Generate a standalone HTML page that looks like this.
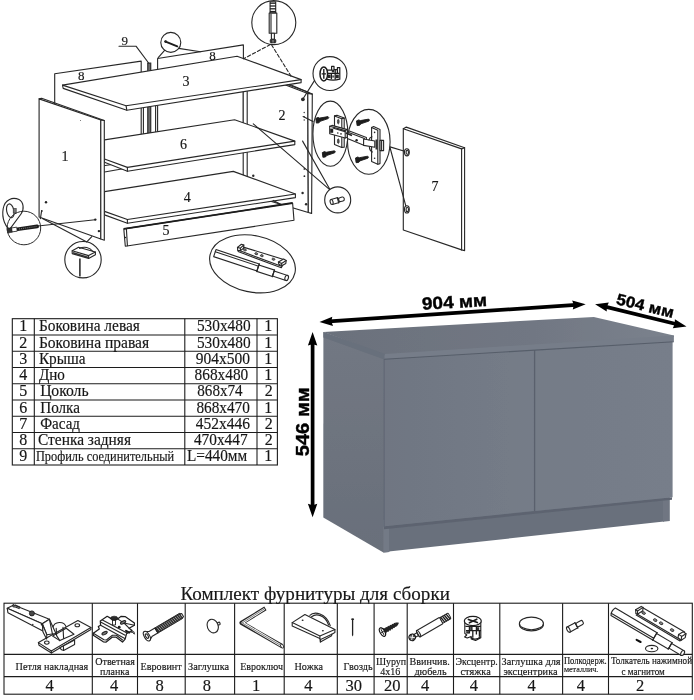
<!DOCTYPE html>
<html lang="ru">
<head>
<meta charset="utf-8">
<title>Схема сборки</title>
<style>
html,body{margin:0;padding:0;background:#fff;}
body{width:694px;height:700px;overflow:hidden;position:relative;font-family:"Liberation Serif",serif;}
svg{position:absolute;left:0;top:0;display:block;}
text{font-family:"Liberation Serif",serif;fill:#161616;stroke:#161616;stroke-width:0.16;}
.sans{font-family:"Liberation Sans",sans-serif;font-weight:bold;fill:#000;stroke:#000;stroke-width:0.4;}
.ln{stroke:#282828;stroke-width:1.12;fill:none;stroke-linecap:round;stroke-linejoin:round;}
.lnw{stroke:#282828;stroke-width:1.12;fill:#fff;stroke-linejoin:round;}
.tb{stroke:#1c1c1c;stroke-width:1.1;fill:none;}
</style>
</head>
<body>
<svg width="694" height="700" viewBox="0 0 694 700">
<defs>
<filter id="soft" x="-2%" y="-2%" width="104%" height="104%"><feGaussianBlur stdDeviation="0.45"/></filter>
<linearGradient id="gFront" x1="0" y1="0" x2="1" y2="0">
<stop offset="0" stop-color="#6f7682"/><stop offset="1" stop-color="#757c88"/>
</linearGradient>
<linearGradient id="gFrontR" x1="0" y1="0" x2="1" y2="0">
<stop offset="0" stop-color="#747b87"/><stop offset="1" stop-color="#777e8a"/>
</linearGradient>
<linearGradient id="gTop" x1="0" y1="0" x2="1" y2="0">
<stop offset="0" stop-color="#6b717c"/><stop offset="0.6" stop-color="#717783"/><stop offset="1" stop-color="#7b828d"/>
</linearGradient>
<linearGradient id="gSide" x1="0" y1="0" x2="0" y2="1">
<stop offset="0" stop-color="#727883"/><stop offset="1" stop-color="#696f7a"/>
</linearGradient>
</defs>
<rect width="694" height="700" fill="#fff"/>

<!-- ============ EXPLODED DIAGRAM ============ -->
<g id="exploded" filter="url(#soft)">
<!-- back walls 8 -->
<polygon class="lnw" points="54.7,73.7 141.2,61.1 141.2,160 54.7,173.3"/>
<polygon class="lnw" points="157.6,58.5 243.4,44.9 243.4,145 157.6,158"/>
<line class="ln" x1="143.4" y1="108" x2="143.4" y2="133.5" stroke-width="0.8"/>
<line class="ln" x1="155.6" y1="106" x2="155.6" y2="131.8" stroke-width="0.8"/>
<!-- profile 9 -->
<rect x="147.4" y="62.9" width="3.6" height="71" fill="#444" stroke="#222" stroke-width="0.6"/>
<line x1="149.2" y1="64" x2="149.2" y2="133" stroke="#999" stroke-width="0.7"/>
<polyline class="ln" points="119,46.2 136,46.2 148.6,63"/>
<!-- right side 2 -->
<polygon class="lnw" points="243.2,68.8 307.8,93.4 308.3,212.5 243.2,193"/>
<line class="ln" x1="247.2" y1="70" x2="247.2" y2="194"/>
<polygon class="lnw" points="307.8,93.4 312.3,94.1 311.6,213.4 308.3,212.5"/>
<line class="ln" x1="286.8" y1="84.2" x2="309" y2="92.6" />
<line class="ln" x1="287.5" y1="83.4" x2="312.3" y2="94.1" stroke-width="0.8"/>
<!-- holes on 2 -->
<circle cx="302.9" cy="99.3" r="1.9" fill="#2a2a2a"/>
<circle cx="304.2" cy="112.5" r="0.7" fill="#333"/><circle cx="304.2" cy="116.8" r="0.7" fill="#333"/><circle cx="304.2" cy="120" r="0.7" fill="#333"/>
<circle cx="304.4" cy="168.9" r="0.9" fill="#2a2a2a"/><circle cx="304.4" cy="176.2" r="0.9" fill="#2a2a2a"/>
<circle cx="302.6" cy="193" r="1.2" fill="#2a2a2a"/><circle cx="306.1" cy="204.2" r="1.2" fill="#2a2a2a"/>
<circle cx="253.3" cy="175.7" r="1.2" fill="#2a2a2a"/>
<!-- back wall lower edge seen under shelf -->
<line class="ln" x1="104.5" y1="172" x2="123" y2="168.8"/>
<!-- shelf 6 -->
<polygon class="lnw" points="104.5,139.9 234.6,119.7 294.8,141.1 294.8,144.6 127.4,171.2 104.5,162.2"/>
<polyline class="ln" points="104.5,159 127.4,167.4 294.8,141.1"/>
<line class="ln" x1="127.4" y1="167.4" x2="127.4" y2="171.2"/>
<!-- bottom 4 -->
<polygon class="lnw" points="104.5,191.6 233.3,171.4 295.4,194 295.4,197.6 127.4,223.2 104.5,214.9"/>
<polyline class="ln" points="104.5,211.4 127.4,219.5 295.4,194"/>
<line class="ln" x1="127.4" y1="219.5" x2="127.4" y2="223.2"/>
<line class="ln" x1="273.2" y1="200.4" x2="280.1" y2="203.9"/>
<!-- plinth 5 -->
<polygon class="lnw" points="123.8,228.9 292.6,203 294,220.3 125.3,246.2"/>
<line x1="123.8" y1="228.9" x2="292.6" y2="203" stroke="#1e1e1e" stroke-width="1.8"/>
<line class="ln" x1="126.4" y1="229" x2="127.4" y2="245.6"/>
<circle cx="125.4" cy="237.5" r="0.8" fill="#222"/>
<!-- top 3 -->
<polygon class="lnw" points="62.5,85.1 237.1,56.2 301.1,79.6 301.1,82.6 126.8,110.2 63.2,88.4"/>
<polyline class="ln" points="62.5,85.1 126.1,105.8 301.1,79.6"/>
<line class="ln" x1="126.1" y1="105.8" x2="126.8" y2="110.2"/>
<!-- left side 1 -->
<polygon class="lnw" points="39.1,98.9 100.8,120 100.8,239 39.1,217"/>
<polygon class="lnw" points="100.8,120 104.3,120.5 104.3,240.2 100.8,239"/>
<polyline class="ln" points="39.1,98.9 41.6,98.2 104.3,120.5"/>
<circle cx="46" cy="202.3" r="1.2" fill="#222"/><circle cx="41.8" cy="211" r="0.9" fill="#222"/>
<circle cx="95.3" cy="219.6" r="1.2" fill="#222"/><circle cx="98.9" cy="231.1" r="1.2" fill="#222"/>
<circle cx="80.5" cy="120.5" r="0.5" fill="#555"/>
<!-- door 7 -->
<polygon class="lnw" points="403.3,128.7 406.3,127.1 464.6,147.7 464.6,250.6 461.6,249.9 403.3,230"/>
<polyline class="ln" points="403.3,128.7 461.6,148.9 461.6,249.9"/>
<line class="ln" x1="461.6" y1="148.9" x2="464.6" y2="147.7"/>
<ellipse class="lnw" cx="406.9" cy="152.3" rx="2.4" ry="3.6"/><ellipse class="ln" cx="407.3" cy="152.3" rx="1.2" ry="2.2" stroke-width="0.6"/>
<ellipse class="lnw" cx="406.9" cy="209.4" rx="2.4" ry="3.6"/><ellipse class="ln" cx="407.3" cy="209.4" rx="1.2" ry="2.2" stroke-width="0.6"/>
<!-- part numbers -->
<g font-size="14" text-anchor="middle">
<text x="65" y="161.2">1</text><text x="281.9" y="120.2">2</text><text x="185.9" y="86">3</text>
<text x="187.2" y="201.9">4</text><text x="166" y="235.4">5</text><text x="183.4" y="148.9">6</text>
<text x="434.9" y="190.6">7</text><text x="81.3" y="80.4" font-size="13">8</text><text x="212.6" y="60.2" font-size="13">8</text>
<text x="124.8" y="44.8" font-size="13">9</text>
</g>
<g id="callouts">
<!-- nail callout -->
<circle class="lnw" cx="170.8" cy="42.4" r="10"/>
<line x1="165.6" y1="41.6" x2="177.3" y2="46.3" stroke="#1c1c1c" stroke-width="1.9" stroke-linecap="round"/>
<circle cx="165.6" cy="41.6" r="1.4" fill="#222"/>
<line class="ln" x1="178.6" y1="48.4" x2="200.5" y2="51.7"/>
<line class="ln" x1="164.6" y1="50.4" x2="158.2" y2="57.6"/>
<!-- dowel callout -->
<circle class="lnw" cx="273.8" cy="22.6" r="22"/>
<rect class="lnw" x="269.2" y="13" width="7.6" height="20.3"/>
<line class="ln" x1="271" y1="14" x2="271" y2="32.5" stroke-width="0.6"/>
<rect class="lnw" x="270.1" y="1.8" width="5.6" height="11.2"/>
<g stroke="#222" stroke-width="1.3"><line x1="269.9" y1="3.2" x2="275.9" y2="3.2"/><line x1="269.9" y1="6" x2="275.9" y2="6"/><line x1="269.9" y1="8.8" x2="275.9" y2="8.8"/><line x1="269.9" y1="11.8" x2="275.9" y2="11.8" stroke-width="1.8"/></g>
<rect class="lnw" x="271.4" y="33.3" width="3" height="6"/>
<rect x="270.1" y="39.3" width="5.8" height="3.6" rx="1" fill="#333" stroke="#222" stroke-width="0.6"/>
<line x1="273" y1="40" x2="273" y2="42.5" stroke="#ccc" stroke-width="0.7"/>
<line class="ln" x1="270.3" y1="44.6" x2="243.5" y2="58.8" stroke-dasharray="3.4 2.2" stroke-linecap="butt"/>
<line class="ln" x1="271.5" y1="44.8" x2="291" y2="76.1" stroke-dasharray="3.4 2.2" stroke-linecap="butt"/>
<!-- eccentric callout -->
<circle class="lnw" cx="329.95" cy="73.6" r="16.95"/>
<line class="ln" x1="314.6" y1="80.4" x2="302.9" y2="99"/>
<path d="M326.6,70.2 H331.6 V66.4 H334 V69.6 H337.4 V67.6 H339.8 V79.2 Q333,81 326.6,79.2 Z" fill="#fff" stroke="#1c1c1c" stroke-width="1.2" stroke-linejoin="round"/>
<path d="M327,73.4H339.6 M331.4,73.4v5.8 M335.2,70v9.4 M337.4,69.6v4" stroke="#1c1c1c" stroke-width="1.3" fill="none"/>
<rect x="328" y="74.6" width="2.6" height="3.4" fill="#2a2a2a"/><rect x="336" y="74.6" width="2.8" height="3.6" fill="#2a2a2a"/><rect x="331.8" y="69.6" width="2.4" height="2.8" fill="#2a2a2a"/><rect x="332.2" y="75.4" width="2" height="2.2" fill="#555"/>
<ellipse cx="323.8" cy="73.9" rx="3.8" ry="7" fill="#fff" stroke="#1c1c1c" stroke-width="1.5"/>
<path d="M323.8,69v9.8 M321.6,73.9h4.4" stroke="#1c1c1c" stroke-width="1.4" fill="none"/>
<!-- hinge ellipses -->
<ellipse class="lnw" cx="330.4" cy="133.7" rx="17.5" ry="32.6"/>
<ellipse class="lnw" cx="368.8" cy="141.8" rx="21.3" ry="32.4"/>
<line class="ln" x1="303.1" y1="116.5" x2="313" y2="121.5"/>
<line class="ln" x1="390" y1="146.9" x2="404.6" y2="151.3"/>
<line class="ln" x1="390" y1="147.5" x2="405.8" y2="205.8"/>
<!-- screws -->
<g fill="#1c1c1c" stroke="#1c1c1c" stroke-width="0.9" stroke-linejoin="round">
<path d="M315.8,118.4l2.2,-1l1.6,0.7l8.4,-1.5l0.8,0.9l-0.6,1.1l-8,2.7l-1.2,1.5l-2.6,0.3z"/>
</g>
<g transform="translate(6.5,34.2)" fill="#1c1c1c" stroke="#1c1c1c" stroke-width="0.9" stroke-linejoin="round"><path d="M315.8,118.4l2.2,-1l1.6,0.7l8.4,-1.5l0.8,0.9l-0.6,1.1l-8,2.7l-1.2,1.5l-2.6,0.3z"/></g>
<g transform="translate(40.7,2.5)" fill="#1c1c1c" stroke="#1c1c1c" stroke-width="0.9" stroke-linejoin="round"><path d="M315.8,118.4l2.2,-1l1.6,0.7l8.4,-1.5l0.8,0.9l-0.6,1.1l-8,2.7l-1.2,1.5l-2.6,0.3z"/></g>
<g transform="translate(39.7,39.6)" fill="#1c1c1c" stroke="#1c1c1c" stroke-width="0.9" stroke-linejoin="round"><path d="M315.8,118.4l2.2,-1l1.6,0.7l8.4,-1.5l0.8,0.9l-0.6,1.1l-8,2.7l-1.2,1.5l-2.6,0.3z"/></g>
<!-- mounting plate -->
<polygon class="lnw" points="334.5,115.9 337,115.2 344.2,118.1 344.2,147.2 341.8,147.4 334.5,144.4"/>
<polyline class="ln" points="334.5,115.9 341.8,118.8 341.8,147.4" stroke-width="0.7"/><line class="ln" x1="341.8" y1="118.8" x2="344.2" y2="118.1" stroke-width="0.7"/>
<polygon class="lnw" points="329.7,126.3 332,125.4 347.4,129.6 347.4,137 345.2,138 329.7,133.8"/>
<polyline class="ln" points="329.7,126.3 345.2,130.6 345.2,138" stroke-width="0.7"/><line class="ln" x1="345.2" y1="130.6" x2="347.4" y2="129.6" stroke-width="0.7"/>
<ellipse cx="338.3" cy="121.6" rx="0.9" ry="2.4" fill="#555" stroke="#222" stroke-width="0.6"/>
<ellipse cx="338.3" cy="141.2" rx="0.9" ry="2.4" fill="#555" stroke="#222" stroke-width="0.6"/>
<rect x="330.2" y="128.6" width="3" height="4.2" fill="#222"/>
<circle cx="337.8" cy="133" r="0.8" fill="#222"/><circle cx="341" cy="133.9" r="0.8" fill="#222"/>
<line class="ln" x1="333.5" y1="128.2" x2="345" y2="131.6" stroke-width="0.6"/>
<!-- hinge arm -->
<polygon class="lnw" points="371.6,127.4 373.6,126.6 380,129.4 380,163.6 377.8,164.2 371.6,161.4"/>
<polyline class="ln" points="371.6,127.4 377.8,130.2 377.8,164.2" stroke-width="0.7"/>
<circle cx="374.6" cy="132.4" r="0.8" fill="#222"/><circle cx="374.6" cy="158.2" r="0.8" fill="#222"/>
<polygon class="lnw" points="380,140.4 383.6,140.4 383.6,150.6 380,150.6"/>
<line class="ln" x1="381.6" y1="140.4" x2="381.6" y2="150.6" stroke-width="0.7"/>
<polygon class="lnw" points="347.4,132 349.4,131 366.4,137.6 366.4,144.6 364.4,145.4 347.4,138.6"/>
<polyline class="ln" points="347.4,132 364.4,138.6 364.4,145.4" stroke-width="0.7"/>
<circle cx="356.6" cy="140.2" r="1.2" fill="#222"/>
<line x1="346" y1="133" x2="352" y2="135.6" stroke="#222" stroke-width="1.6"/>
<polygon class="lnw" points="363.6,139 374.8,141 374.8,147.2 363.6,145.4"/>
<path class="ln" d="M372,136.8q-2.5,0.8,-3,3.2 M372.4,152q-2.6,-1,-3,-4.6" stroke-width="0.8"/>
<line x1="376.6" y1="139.5" x2="376.6" y2="149.5" stroke="#333" stroke-width="2.2"/>
<!-- shelf support callout -->
<circle class="lnw" cx="337.7" cy="199.9" r="13"/>
<line class="ln" x1="253.3" y1="123.8" x2="329.4" y2="189.4"/>
<line class="ln" x1="302.6" y1="141.1" x2="329.8" y2="189.2"/>
<g transform="translate(337.4,200.4) rotate(-15)">
<rect class="lnw" x="-6" y="-2.6" width="7.4" height="5.2" rx="1"/>
<rect class="lnw" x="1.4" y="-2" width="5.6" height="4" rx="1.6"/>
<ellipse class="lnw" cx="-6" cy="0" rx="1.4" ry="2.6"/>
<line class="ln" x1="0.6" y1="-2.8" x2="0.6" y2="2.8" stroke-width="1.1"/>
</g>
<!-- euro screw callout (left) -->
<path class="lnw" d="M12.6,231 C5,228 1.5,218 3.2,208.5 C5,199 13,196.8 19,199.6 C23.5,202 24.6,209 21,214 L10.2,228.6 Z" stroke-width="1.2"/>
<ellipse class="lnw" cx="10.3" cy="210.8" rx="3.6" ry="7" transform="rotate(-12 10.3 210.8)" stroke-width="1.1"/>
<rect x="13.2" y="208.4" width="3" height="4.6" fill="#777" stroke="#333" stroke-width="0.6"/>
<circle cx="23.9" cy="228" r="16.8" fill="#fff" fill-opacity="0.0" stroke="#2b2b2b" stroke-width="1"/>
<line x1="17.4" y1="229.3" x2="37.2" y2="226.4" stroke="#1c1c1c" stroke-width="3.6" stroke-linecap="round"/>
<line x1="19" y1="229" x2="36.4" y2="226.5" stroke="#8a8a8a" stroke-width="0.9" stroke-dasharray="1 1.1"/>
<rect x="11.4" y="227.6" width="5.6" height="4" fill="#fff" stroke="#222" stroke-width="0.8" transform="rotate(-8 14 229.6)"/>
<path d="M7,228.6l4.6,-1l0.6,4.6l-4.4,0.8z" fill="#333" stroke="#222" stroke-width="0.6"/>
<line class="ln" x1="38" y1="226" x2="95.1" y2="219.7"/>
<line class="ln" x1="41.6" y1="210.8" x2="40.4" y2="218.6"/>
<!-- foot callout (bottom) -->
<circle class="lnw" cx="83" cy="259.7" r="18.2"/>
<line class="ln" x1="42.4" y1="218.5" x2="86.4" y2="241.8"/>
<line class="ln" x1="91.8" y1="236.6" x2="86.8" y2="241.8"/>
<polygon class="lnw" points="72.2,250.8 78.6,247.2 95.4,252 95.4,254.8 88.6,258.4 72.2,253.6"/>
<polyline class="ln" points="72.2,250.8 88.6,255.6 95.4,252" stroke-width="0.8"/>
<line class="ln" x1="88.6" y1="255.6" x2="88.6" y2="258.4" stroke-width="0.8"/>
<path class="ln" d="M79.6,248.4 C84,246.2 90,247.4 92.6,251.2" stroke-width="0.8"/>
<line x1="73" y1="252.8" x2="88.4" y2="257.4" stroke="#333" stroke-width="1.6"/>
<line x1="79.9" y1="258.6" x2="79.9" y2="276.6" stroke="#222" stroke-width="1.5"/>
<!-- pusher callout -->
<ellipse class="lnw" cx="252.5" cy="263.8" rx="43.4" ry="28.2" transform="rotate(12 252.5 263.8)"/>
<g transform="translate(216,249.6) rotate(18.4)">
<polygon class="lnw" points="0,0 45.6,0 45.6,7.4 0,7.4"/>
<line class="ln" x1="0" y1="2.3" x2="45.6" y2="2.3" stroke-width="0.8"/>
<polygon class="lnw" points="45.6,1 62,1 62,7.8 45.6,7.8"/>
<line class="ln" x1="45.6" y1="-0.2" x2="45.6" y2="8" stroke-width="1.7"/>
<polygon class="lnw" points="62,2 76,2 76,7.2 62,7.2"/>
<line class="ln" x1="62" y1="0.8" x2="62" y2="8" stroke-width="1.5"/>
<ellipse class="lnw" cx="76" cy="4.6" rx="1.7" ry="2.7"/>
</g>
<g>
<polygon class="lnw" points="240.1,246.1 284.5,259.7 281.5,266.3 238.1,250.1"/>
<polyline class="ln" points="238.1,251.6 281.3,267.8 284.8,261" stroke-width="0.8"/>
<path class="lnw" d="M237.7,250.4 L237.5,247.4 L241.4,244.2 L243.8,245 L243.6,248.2 L240.4,250.6 Z" stroke-width="1.3"/>
<path class="ln" d="M237.5,247.4 L240.4,248.2 L240.4,250.6 M240.4,248.2 L243.8,245" stroke-width="0.8"/>
<path class="lnw" d="M278.4,262 L283.6,259 L286.2,260.6 L285.8,263.4 L281.8,265.8 L278.8,264.2 Z" stroke-width="1.2"/>
<path class="ln" d="M278.4,262 L281.6,263.4 L286.2,260.6 M281.6,263.4 L281.8,265.8" stroke-width="0.8"/>
<g fill="#888" stroke="#222" stroke-width="0.8">
<ellipse cx="244.9" cy="249.9" rx="1.5" ry="0.95" transform="rotate(17 244.9 249.9)"/>
<ellipse cx="256.3" cy="253.7" rx="1.5" ry="0.95" transform="rotate(17 256.3 253.7)"/>
<ellipse cx="261.8" cy="255.7" rx="1.5" ry="0.95" transform="rotate(17 261.8 255.7)"/>
<ellipse cx="273.4" cy="259.2" rx="1.5" ry="0.95" transform="rotate(17 273.4 259.2)"/>
</g>
</g>
</g>
</g>

<!-- ============ PARTS TABLE ============ -->
<g id="parts" filter="url(#soft)">
<rect class="tb" x="12.3" y="318.7" width="265.1" height="146.3"/>
<line class="tb" x1="34.3" y1="318.7" x2="34.3" y2="465.0"/>
<line class="tb" x1="184.8" y1="318.7" x2="184.8" y2="465.0"/>
<line class="tb" x1="257" y1="318.7" x2="257" y2="465.0"/>
<line class="tb" x1="12.3" y1="335.0" x2="277.4" y2="335.0"/>
<line class="tb" x1="12.3" y1="351.2" x2="277.4" y2="351.2"/>
<line class="tb" x1="12.3" y1="367.5" x2="277.4" y2="367.5"/>
<line class="tb" x1="12.3" y1="383.7" x2="277.4" y2="383.7"/>
<line class="tb" x1="12.3" y1="400.0" x2="277.4" y2="400.0"/>
<line class="tb" x1="12.3" y1="416.3" x2="277.4" y2="416.3"/>
<line class="tb" x1="12.3" y1="432.5" x2="277.4" y2="432.5"/>
<line class="tb" x1="12.3" y1="448.8" x2="277.4" y2="448.8"/>
<text font-size="16" x="23.2" y="331.4" text-anchor="middle">1</text>
<text font-size="16" x="38.9" y="331.4" textLength="101" lengthAdjust="spacingAndGlyphs">Боковина левая</text>
<text font-size="16" x="196.9" y="331.4" textLength="53.7" lengthAdjust="spacingAndGlyphs">530x480</text>
<text font-size="16" x="268.3" y="331.4" text-anchor="middle">1</text>
<text font-size="16" x="23.2" y="347.6" text-anchor="middle">2</text>
<text font-size="16" x="38.9" y="347.6" textLength="110.3" lengthAdjust="spacingAndGlyphs">Боковина правая</text>
<text font-size="16" x="196.9" y="347.6" textLength="53.7" lengthAdjust="spacingAndGlyphs">530x480</text>
<text font-size="16" x="268.3" y="347.6" text-anchor="middle">1</text>
<text font-size="16" x="23.2" y="363.9" text-anchor="middle">3</text>
<text font-size="16" x="38.9" y="363.9" textLength="46.7" lengthAdjust="spacingAndGlyphs">Крыша</text>
<text font-size="16" x="195.7" y="363.9" textLength="54.3" lengthAdjust="spacingAndGlyphs">904x500</text>
<text font-size="16" x="268.3" y="363.9" text-anchor="middle">1</text>
<text font-size="16" x="23.2" y="380.1" text-anchor="middle">4</text>
<text font-size="16" x="38.9" y="380.1" textLength="26" lengthAdjust="spacingAndGlyphs">Дно</text>
<text font-size="16" x="194.6" y="380.1" textLength="53.7" lengthAdjust="spacingAndGlyphs">868x480</text>
<text font-size="16" x="268.3" y="380.1" text-anchor="middle">1</text>
<text font-size="16" x="23.2" y="396.4" text-anchor="middle">5</text>
<text font-size="16" x="40.2" y="396.4" textLength="48.4" lengthAdjust="spacingAndGlyphs">Цоколь</text>
<text font-size="16" x="197.3" y="396.4" textLength="45.3" lengthAdjust="spacingAndGlyphs">868x74</text>
<text font-size="16" x="268.8" y="396.4" text-anchor="middle">2</text>
<text font-size="16" x="23.2" y="412.7" text-anchor="middle">6</text>
<text font-size="16" x="40.2" y="412.7" textLength="39.8" lengthAdjust="spacingAndGlyphs">Полка</text>
<text font-size="16" x="196.4" y="412.7" textLength="53.5" lengthAdjust="spacingAndGlyphs">868x470</text>
<text font-size="16" x="268.3" y="412.7" text-anchor="middle">1</text>
<text font-size="16" x="23.2" y="428.9" text-anchor="middle">7</text>
<text font-size="16" x="40.2" y="428.9" textLength="39.8" lengthAdjust="spacingAndGlyphs">Фасад</text>
<text font-size="16" x="195.7" y="428.9" textLength="54.3" lengthAdjust="spacingAndGlyphs">452x446</text>
<text font-size="16" x="268.8" y="428.9" text-anchor="middle">2</text>
<text font-size="16" x="23.2" y="445.2" text-anchor="middle">8</text>
<text font-size="16" x="38" y="445.2" textLength="93" lengthAdjust="spacingAndGlyphs">Стенка задняя</text>
<text font-size="16" x="193.9" y="445.2" textLength="53.7" lengthAdjust="spacingAndGlyphs">470x447</text>
<text font-size="16" x="268.8" y="445.2" text-anchor="middle">2</text>
<text font-size="16" x="23.2" y="461.4" text-anchor="middle">9</text>
<text font-size="14.5" x="35.9" y="461.4" textLength="138.3" lengthAdjust="spacingAndGlyphs">Профиль соединительный</text>
<text font-size="16" x="187" y="461.4" textLength="60.2" lengthAdjust="spacingAndGlyphs">L=440мм</text>
<text font-size="16" x="268.3" y="461.4" text-anchor="middle">1</text>
</g>

<!-- ============ CABINET RENDER ============ -->
<g id="cabinet" filter="url(#soft)">
<!-- left side -->
<polygon points="323.4,332.1 386,354 389.4,552 383.4,552.4 323.3,517.5" fill="url(#gSide)"/>
<!-- front body (plinth zone) -->
<polygon points="388.6,518 664,490 664,521.6 388.6,551.6" fill="#69707c"/>
<polygon points="383.4,520 389,520 389,552 383.4,552.4" fill="#737a86"/>
<polygon points="663,490 669.8,489.5 669.8,521 663,521.8" fill="#6f7682"/>
<!-- door shadow on plinth -->
<polygon points="384,526.2 672,497.2 672,499.8 384,529.2" fill="#5d6470"/>
<!-- doors -->
<polygon points="384.2,356 535,346 535,510.8 384.2,526.3" fill="url(#gFront)"/>
<polygon points="534.4,346 672.6,338 672.6,497.2 534.4,510.9" fill="url(#gFrontR)"/>
<line x1="534.6" y1="349" x2="534.6" y2="511" stroke="#5a616d" stroke-width="1.3"/>
<line x1="384.1" y1="357" x2="384.1" y2="526.6" stroke="#5f6672" stroke-width="1"/>
<!-- top surface -->
<polygon points="323.4,332.1 593.8,316.9 673.9,335.6 673.9,337 384.9,355" fill="url(#gTop)"/>
<!-- top left edge band -->
<polygon points="323.4,332.1 384.9,353.9 384.4,359.4 323.4,337.6" fill="#686f7b"/>
<!-- top front edge -->
<polygon points="384.9,353.9 673.9,335.6 673.9,341.6 384.2,359.2" fill="#767d89"/>
<line x1="384.2" y1="359.2" x2="673.9" y2="341.8" stroke="#575e6a" stroke-width="1.1"/>
<!-- dimension arrows -->
<g stroke="#000" stroke-width="3.7" fill="none" stroke-linecap="butt">
<line x1="329" y1="321.4" x2="576" y2="304.9"/>
<line x1="604" y1="306.4" x2="678" y2="324.5"/>
<line x1="312.6" y1="342" x2="312.6" y2="508"/>
</g>
<g fill="#000">
<polygon points="319.5,322 332.3,316.8 331.4,321.2 333,325.9"/>
<polygon points="585.7,304.3 572.8,309.4 573.7,305 572.2,300.4"/>
<polygon points="595.1,304.3 608.8,302.6 606.9,306.8 606.7,311.6"/>
<polygon points="686.5,326.5 672.8,328.2 674.7,324 674.9,319.2"/>
<polygon points="312.6,332.1 317.3,345.6 312.6,344.2 307.9,345.6"/>
<polygon points="312.6,517.3 317.3,503.8 312.6,505.2 307.9,503.8"/>
</g>
<text class="sans" font-size="17.5" text-anchor="middle" transform="translate(454.8,307.9) rotate(-3.4)" textLength="65.2" lengthAdjust="spacingAndGlyphs">904 мм</text>
<text class="sans" font-size="15.8" text-anchor="middle" transform="translate(644,311) rotate(13.6)" textLength="58.5" lengthAdjust="spacingAndGlyphs">504 мм</text>
<text class="sans" font-size="18.6" text-anchor="middle" transform="translate(308.9,421.8) rotate(-90)" textLength="69" lengthAdjust="spacingAndGlyphs">546 мм</text>
</g>

<!-- ============ HARDWARE TABLE ============ -->
<g id="hardware" filter="url(#soft)">
<text font-size="18.6" x="180.5" y="599.6" textLength="269.4" lengthAdjust="spacingAndGlyphs">Комплект фурнитуры для сборки</text>
<rect class="tb" x="4" y="603.2" width="688.3" height="91.0"/>
<line class="tb" x1="92.3" y1="603.2" x2="92.3" y2="694.2"/>
<line class="tb" x1="137.5" y1="603.2" x2="137.5" y2="694.2"/>
<line class="tb" x1="185.2" y1="603.2" x2="185.2" y2="694.2"/>
<line class="tb" x1="234.6" y1="603.2" x2="234.6" y2="694.2"/>
<line class="tb" x1="284.2" y1="603.2" x2="284.2" y2="694.2"/>
<line class="tb" x1="337.3" y1="603.2" x2="337.3" y2="694.2"/>
<line class="tb" x1="374.1" y1="603.2" x2="374.1" y2="694.2"/>
<line class="tb" x1="407.2" y1="603.2" x2="407.2" y2="694.2"/>
<line class="tb" x1="453.5" y1="603.2" x2="453.5" y2="694.2"/>
<line class="tb" x1="499.8" y1="603.2" x2="499.8" y2="694.2"/>
<line class="tb" x1="562.6" y1="603.2" x2="562.6" y2="694.2"/>
<line class="tb" x1="608.5" y1="603.2" x2="608.5" y2="694.2"/>
<line class="tb" x1="4" y1="654.4" x2="692.3" y2="654.4"/>
<line class="tb" x1="4" y1="676.6" x2="692.3" y2="676.6"/>
<text font-size="11.3" x="15.6" y="669.5" textLength="72.7" lengthAdjust="spacingAndGlyphs">Петля накладная</text>
<text font-size="11.3" x="95.3" y="664.5" textLength="39.6" lengthAdjust="spacingAndGlyphs">Ответная</text>
<text font-size="11.3" x="100.1" y="674.6" textLength="29.3" lengthAdjust="spacingAndGlyphs">планка</text>
<text font-size="11.3" x="140.6" y="669.5" textLength="41.1" lengthAdjust="spacingAndGlyphs">Евровинт</text>
<text font-size="11.3" x="188.0" y="669.5" textLength="41.1" lengthAdjust="spacingAndGlyphs">Заглушка</text>
<text font-size="11.3" x="240.2" y="669.5" textLength="42.8" lengthAdjust="spacingAndGlyphs">Евроключ</text>
<text font-size="11.3" x="294.5" y="669.5" textLength="28.5" lengthAdjust="spacingAndGlyphs">Ножка</text>
<text font-size="11.3" x="343.6" y="669.5" textLength="29.0" lengthAdjust="spacingAndGlyphs">Гвоздь</text>
<text font-size="11.3" x="375.9" y="664.5" textLength="30.3" lengthAdjust="spacingAndGlyphs">Шуруп</text>
<text font-size="11.3" x="380.2" y="674.6" textLength="20.2" lengthAdjust="spacingAndGlyphs">4х16</text>
<text font-size="11.3" x="409.6" y="664.5" textLength="40.1" lengthAdjust="spacingAndGlyphs">Ввинчив.</text>
<text font-size="11.3" x="414.4" y="674.6" textLength="32.2" lengthAdjust="spacingAndGlyphs">дюбель</text>
<text font-size="11.3" x="455.5" y="664.5" textLength="42.3" lengthAdjust="spacingAndGlyphs">Эксцентр.</text>
<text font-size="11.3" x="460.5" y="674.6" textLength="30.3" lengthAdjust="spacingAndGlyphs">стяжка</text>
<text font-size="11.3" x="501.6" y="664.5" textLength="59.0" lengthAdjust="spacingAndGlyphs">Заглушка для</text>
<text font-size="11.3" x="503.4" y="674.6" textLength="54.2" lengthAdjust="spacingAndGlyphs">эксцентрика</text>
<text font-size="10" x="563.9" y="663.7" textLength="42.8" lengthAdjust="spacingAndGlyphs">Полкодерж.</text>
<text font-size="9" x="563.9" y="672.0" textLength="34.5" lengthAdjust="spacingAndGlyphs">металлич.</text>
<text font-size="10.5" x="611.0" y="663.7" textLength="81.0" lengthAdjust="spacingAndGlyphs">Толкатель нажимной</text>
<text font-size="10.5" x="621.6" y="674.6" textLength="43.1" lengthAdjust="spacingAndGlyphs">с магнитом</text>
<text font-size="16.5" x="49.7" y="691" text-anchor="middle">4</text>
<text font-size="16.5" x="114" y="691" text-anchor="middle">4</text>
<text font-size="16.5" x="159.5" y="691" text-anchor="middle">8</text>
<text font-size="16.5" x="206.9" y="691" text-anchor="middle">8</text>
<text font-size="16.5" x="256" y="691" text-anchor="middle">1</text>
<text font-size="16.5" x="308.3" y="691" text-anchor="middle">4</text>
<text font-size="16.5" x="353.7" y="691" text-anchor="middle">30</text>
<text font-size="16.5" x="392.3" y="691" text-anchor="middle">20</text>
<text font-size="16.5" x="425" y="691" text-anchor="middle">4</text>
<text font-size="16.5" x="473.9" y="691" text-anchor="middle">4</text>
<text font-size="16.5" x="531.6" y="691" text-anchor="middle">4</text>
<text font-size="16.5" x="580.8" y="691" text-anchor="middle">4</text>
<text font-size="16.5" x="640" y="691" text-anchor="middle">2</text>
<g id="hwicons">
<!-- 1 hinge -->
<g>
<path class="lnw" d="M52.6,628 A7.2,7.2 0 0 1 66.4,627.4 L66.4,636 L52.6,636 Z" stroke-width="1"/>
<polygon class="lnw" points="38.4,642.6 77.9,620.5 90.9,627.6 51.3,651"/>
<polyline class="ln" points="38.4,642.6 39,645.2 51.4,653 90.9,629.6 90.9,627.6" stroke-width="1"/>
<line class="ln" x1="51.3" y1="651" x2="51.4" y2="653" stroke-width="0.8"/>
<polygon class="lnw" points="52.6,636 66.2,628.3 74,634.2 59.8,640.6" stroke-width="1"/>
<polyline class="ln" points="56.2,628.4 56.6,635.6 59.8,640.6" stroke-width="0.9"/>
<polyline class="ln" points="63,627.2 63.6,638.4" stroke-width="0.9"/>
<polygon class="lnw" points="59.8,647.8 74.6,640 74.6,644.6 63.6,650.4 61.6,649.8" stroke-width="0.9"/>
<line class="ln" x1="63.4" y1="646.2" x2="63.6" y2="650.4" stroke-width="0.8"/>
<ellipse class="lnw" cx="46.8" cy="642.6" rx="2.3" ry="1.6" stroke-width="0.9"/>
<ellipse class="lnw" cx="77.3" cy="625.3" rx="2.3" ry="1.5" stroke-width="0.9"/>
<polygon class="lnw" points="7.2,608.2 13.7,604.9 49.4,619.2 42.3,623.7"/>
<polygon class="lnw" points="7.2,608.2 42.3,623.7 42.9,630.9 7.9,612.7"/>
<polygon class="lnw" points="42.3,623.7 49.4,619.2 55.9,633.5 46.8,634.8"/>
<polygon class="lnw" points="42.3,623.7 46.8,634.8 46.6,639 43,632" stroke-width="0.9"/>
<line class="ln" x1="49.4" y1="619.2" x2="52.4" y2="633.8" stroke-width="0.7"/>
<path class="ln" d="M13.4,604.6 c-1.6,1 -0.4,2.6 1.2,2.2 l4.6,1.8 M15.2,604.9 l4.6,2" stroke-width="1.4"/>
<circle cx="31.9" cy="613.4" r="2.5" fill="#4a4a4a" stroke="#1c1c1c" stroke-width="0.9"/>
<circle cx="32.8" cy="624.4" r="0.7" fill="#222"/><circle cx="41.6" cy="624.6" r="0.9" fill="#222"/><circle cx="55.8" cy="633.6" r="0.9" fill="#222"/>
</g>
<!-- 2 mounting plate -->
<g stroke-linejoin="round">
<polygon points="93.3,633.2 99.3,628.9 98.3,626.5 100.6,625.2 100.3,620.9 107.2,616.3 111.2,618.6 117.5,618.9 121.2,616.3 125.1,616.6 134.4,622.9 134.4,625.2 129.1,628.2 132.1,630.5 126.5,633.8 125.1,639.1 122.5,642.1 115.9,637.1 112.5,637.1 106.2,642.1 103.3,641.8 93.3,635.2" fill="#fff" stroke="#1e1e1e" stroke-width="1.25"/>
<polyline class="ln" points="93.3,633.2 104,639.8 106.4,640 112.4,635.2 116.4,635.2 122.6,640" stroke-width="0.9"/>
<polyline class="ln" points="100.6,621.9 125.1,635.2" stroke-width="1.1"/>
<polyline class="ln" points="102.4,620 126.6,632.8" stroke-width="1.1"/>
<polyline class="ln" points="100.6,625.2 124.8,638.6" stroke-width="0.8"/>
<polyline class="ln" points="117.5,618.9 124,623 134.4,625.2" stroke-width="0.8"/>
<polyline class="ln" points="124,623 129.1,628.2" stroke-width="0.8"/>
<ellipse cx="123.1" cy="622.4" rx="2.9" ry="1.3" transform="rotate(-28 123.1 622.4)" fill="#777" stroke="#1e1e1e" stroke-width="1"/>
<ellipse cx="104.6" cy="633.2" rx="2.9" ry="1.3" transform="rotate(-28 104.6 633.2)" fill="#777" stroke="#1e1e1e" stroke-width="1"/>
<circle cx="119.2" cy="627.2" r="1.4" fill="#222"/>
<rect x="112.5" y="620" width="3" height="5" fill="#fff" stroke="#1e1e1e" stroke-width="0.9"/>
<ellipse cx="114.2" cy="618.3" rx="3.6" ry="2.1" fill="#2a2a2a" stroke="#111" stroke-width="0.6"/>
<line x1="126" y1="630.8" x2="129.4" y2="632.6" stroke="#1a1a1a" stroke-width="1.9" stroke-linecap="round"/>
<path d="M130.4,631.8l2.2,0.6l1.8,1.8l-0.4,-2.4z" fill="#fff" stroke="#1a1a1a" stroke-width="0.9"/>
</g>
<!-- 3 euro screw -->
<g transform="translate(146.9,636.1) rotate(-30.6)">
<polygon class="lnw" points="0,-5.2 4.6,-2.8 11,-2.8 11,2.8 4.6,2.8 0,5.2"/>
<rect x="11" y="-3" width="28.6" height="6" fill="#2e2e2e" stroke="#1c1c1c" stroke-width="0.8"/>
<g stroke="#d8d8d8" stroke-width="0.55">
<path d="M13,-2.2l0.7,4.4 M15.1,-2.2l0.7,4.4 M17.2,-2.2l0.7,4.4 M19.3,-2.2l0.7,4.4 M21.4,-2.2l0.7,4.4 M23.5,-2.2l0.7,4.4 M25.6,-2.2l0.7,4.4 M27.7,-2.2l0.7,4.4 M29.8,-2.2l0.7,4.4 M31.9,-2.2l0.7,4.4 M34,-2.2l0.7,4.4 M36.1,-2.2l0.7,4.4 M38.2,-2.2l0.7,4.4"/>
</g>
<path class="lnw" d="M39.6,-2.6 l1.8,0.8 v3.6 l-1.8,0.8z" stroke-width="0.8"/>
<ellipse class="lnw" cx="0" cy="0" rx="2.6" ry="5.3"/>
<ellipse class="ln" cx="0" cy="0" rx="1.2" ry="2.4" stroke-width="0.8"/>
</g>
<!-- 4 cap -->
<g>
<rect class="lnw" x="217.4" y="622.4" width="2.6" height="2.6" rx="0.8" transform="rotate(-20 218.6 623.6)" stroke-width="0.8"/>
<ellipse class="lnw" cx="212.7" cy="626.1" rx="5.4" ry="7" transform="rotate(-22 212.7 626.1)"/>
</g>
<!-- 5 allen key -->
<g fill="none" stroke-linejoin="round">
<polyline points="265.4,608.4 241.6,622.9 282.2,646.2" stroke="#262626" stroke-width="4.3"/>
<polyline points="264.6,608.9 242.6,622.8 281.3,645.7" stroke="#fff" stroke-width="2.2"/>
<polyline points="264.8,608.6 242.2,622.9 281.6,645.9" stroke="#262626" stroke-width="0.6"/>
<ellipse cx="282.1" cy="646.1" rx="1.3" ry="2.1" transform="rotate(-30 282.1 646.1)" fill="#fff" stroke="#262626" stroke-width="0.9"/>
</g>
<!-- 6 foot -->
<g>
<path class="lnw" d="M309.5,615.7 C314,611 326,612.4 330.4,626"/>
<path class="ln" d="M311.6,616.8 C316,613.2 325,614.6 328.6,625" stroke-width="0.7"/>
<polygon class="lnw" points="292.2,622.6 304.9,614.5 334.9,629.5 334.9,632.6 331.8,634.2 331.6,635.8 320.4,642 319.9,638.6 292.2,626.1"/>
<polyline class="ln" points="292.2,622.6 319.9,636 334.9,629.5" stroke-width="0.8"/>
<line class="ln" x1="319.9" y1="636" x2="319.9" y2="638.6" stroke-width="0.8"/>
<polyline class="ln" points="320.4,642 320.6,639.4 331.8,634.2" stroke-width="0.7"/>
<ellipse cx="302.6" cy="620.3" rx="1" ry="0.7" fill="#222"/><ellipse cx="322.9" cy="630.7" rx="1" ry="0.7" fill="#222"/>
</g>
<!-- 7 nail -->
<g>
<line x1="352.6" y1="619.4" x2="352.6" y2="635.2" stroke="#222" stroke-width="1.3"/>
<ellipse cx="352.6" cy="619.2" rx="1.5" ry="0.9" fill="#222"/>
<path d="M352,635l0.6,1.6l0.6,-1.6z" fill="#222"/>
</g>
<!-- 8 screw -->
<g transform="translate(382.8,631.9) rotate(-29.7)">
<path d="M0.6,-1.8 L16,-1.2 L17.8,0 L16,1.2 L0.6,1.8z" fill="#222" stroke="#222" stroke-width="1" stroke-linejoin="round"/>
<path d="M5,-2.6v5.2 M7.4,-2.6v5.2 M9.8,-2.4v4.8 M12.2,-2.2v4.4 M14.4,-2v4" stroke="#222" stroke-width="1"/>
<path d="M0,-4.6 L3,-1.6 L3,1.6 L0,4.6z" fill="#222" stroke="#222" stroke-width="0.8" stroke-linejoin="round"/>
<ellipse cx="-0.4" cy="0" rx="2.3" ry="4.7" fill="#fff" stroke="#111" stroke-width="1.1"/>
<path d="M-0.4,-3.2v6.4 M-1.8,0h2.8" stroke="#111" stroke-width="0.9"/>
</g>
<!-- 9 dowel -->
<g transform="translate(412.2,637.3) rotate(-30)">
<rect class="lnw" x="2.4" y="-1.6" width="5" height="3.2" stroke-width="0.8"/>
<rect class="lnw" x="6.6" y="-3.6" width="27" height="7.2" rx="0.8"/>
<ellipse class="ln" cx="7.4" cy="0" rx="1.2" ry="3.5" stroke-width="0.7"/>
<rect x="33.6" y="-3.2" width="9.6" height="6.4" rx="1.2" fill="#fff" stroke="#222" stroke-width="0.9"/>
<path d="M34.6,-3.4l1.2,6.8 M36.7,-3.4l1.2,6.8 M38.8,-3.4l1.2,6.8 M40.9,-3.4l1.2,6.8" stroke="#1d1d1d" stroke-width="1.35"/>
<circle cx="0" cy="0" r="3.3" fill="#555" stroke="#151515" stroke-width="1.1"/>
<path d="M-2.2,-1.6l4.4,3.2 M-1.8,2l3.6,-4" stroke="#eee" stroke-width="0.9"/>
</g>
<!-- 10 eccentric -->
<g>
<path d="M464.8,622v11.4l2,1.6l-2.2,2l2.6,1l4,-1.6v2.6l4.4,1.4l5.2,-2.6V622z" fill="#fff" stroke="#1b1b1b" stroke-width="1.1" stroke-linejoin="round"/>
<path d="M465.4,626.4h15.4 M466,630.6h15 M469.4,626.4v7 M476.4,626.4v8 M472.8,631v6.8 M479.4,630.8v6" stroke="#1b1b1b" stroke-width="1.3" fill="none"/>
<rect x="470.2" y="627" width="2.4" height="3.2" fill="#333"/><rect x="476.8" y="627.2" width="2.4" height="3" fill="#333"/><rect x="466.2" y="631.2" width="2.8" height="2.4" fill="#333"/>
<path d="M470.8,637.4c2,2.4 6.6,2.4 9.6,-0.8" stroke="#1b1b1b" stroke-width="1.2" fill="none"/>
<ellipse cx="472.8" cy="621" rx="8.5" ry="4.7" fill="#fff" stroke="#1b1b1b" stroke-width="1.2"/>
<path d="M468.4,619.4l9,3.2 M469.4,622.8l7.4,-3.6" stroke="#1b1b1b" stroke-width="1.6" stroke-linecap="round"/>
</g>
<!-- 11 cover cap -->
<g>
<ellipse class="lnw" cx="531.4" cy="624.6" rx="12" ry="6.3"/>
<ellipse class="lnw" cx="531.4" cy="623.4" rx="12" ry="6.3"/>
</g>
<!-- 12 shelf pin -->
<g transform="translate(568.4,629.6) rotate(-28)">
<rect class="lnw" x="0" y="-2.9" width="9.2" height="5.8"/>
<rect class="lnw" x="9.2" y="-2.2" width="7.2" height="4.4" rx="1.5"/>
<line class="ln" x1="9" y1="-3.2" x2="9" y2="3.2" stroke-width="1.3"/>
<ellipse class="lnw" cx="0" cy="0" rx="1.4" ry="2.9"/>
</g>
<!-- 13 pusher -->
<g>
<g transform="translate(611.8,611) rotate(30.5)">
<path class="lnw" d="M1.6,-4.3 H50 V4.3 H1.6 Q-0.8,0 1.6,-4.3 Z"/>
<line class="ln" x1="0.6" y1="2.2" x2="50" y2="2.2" stroke-width="0.8"/>
<polygon class="lnw" points="50,-3.3 68,-3.3 68,4.1 50,4.1"/>
<line class="ln" x1="50" y1="-4.5" x2="50" y2="4.5" stroke-width="1.7"/>
<polygon class="lnw" points="68,-2.4 82.4,-2.4 82.4,3 68,3"/>
<line class="ln" x1="68" y1="-3.5" x2="68" y2="4.3" stroke-width="1.5"/>
<ellipse class="lnw" cx="82.4" cy="0.3" rx="1.6" ry="2.7"/>
</g>
<polygon class="lnw" points="642.4,607.6 684.6,632 680.2,639.6 636.2,613.6"/>
<polyline class="ln" points="636.2,615 680,641 684,634" stroke-width="0.8"/>
<path class="lnw" d="M635.9,613.4 L635.6,609.8 L641.2,606.4 L643,607.4 L642.8,610.8 L637.4,614.2 Z" stroke-width="1.3"/>
<path class="ln" d="M635.6,609.8 L637.6,611 L637.4,614.2 M637.6,611 L643,607.4" stroke-width="0.8"/>
<path class="lnw" d="M678.6,634.4 L683.2,631.8 L686,633.8 L685.2,637.6 L681.2,640.2 L678,637.8 Z" stroke-width="1.2"/>
<path class="ln" d="M678.6,634.4 L681.6,636.4 L686,633.8 M681.6,636.4 L681.2,640.2" stroke-width="0.8"/>
<g fill="#888" stroke="#222" stroke-width="0.8">
<ellipse cx="643.6" cy="613" rx="1.9" ry="1.2" transform="rotate(25 643.6 613)"/>
<ellipse cx="655.2" cy="620.1" rx="1.9" ry="1.2" transform="rotate(25 655.2 620.1)"/>
<ellipse cx="661.1" cy="623.3" rx="1.9" ry="1.2" transform="rotate(25 661.1 623.3)"/>
<ellipse cx="672.1" cy="630.1" rx="1.9" ry="1.2" transform="rotate(25 672.1 630.1)"/>
</g>
<line x1="636.6" y1="639.8" x2="640.6" y2="642" stroke="#111" stroke-width="2" stroke-linecap="round"/>
<ellipse class="lnw" cx="651.7" cy="648.6" rx="6.2" ry="3.2"/>
<ellipse cx="651.9" cy="648.6" rx="1.3" ry="0.8" fill="#222"/>
</g>
</g>
</g>
</svg>
</body>
</html>
